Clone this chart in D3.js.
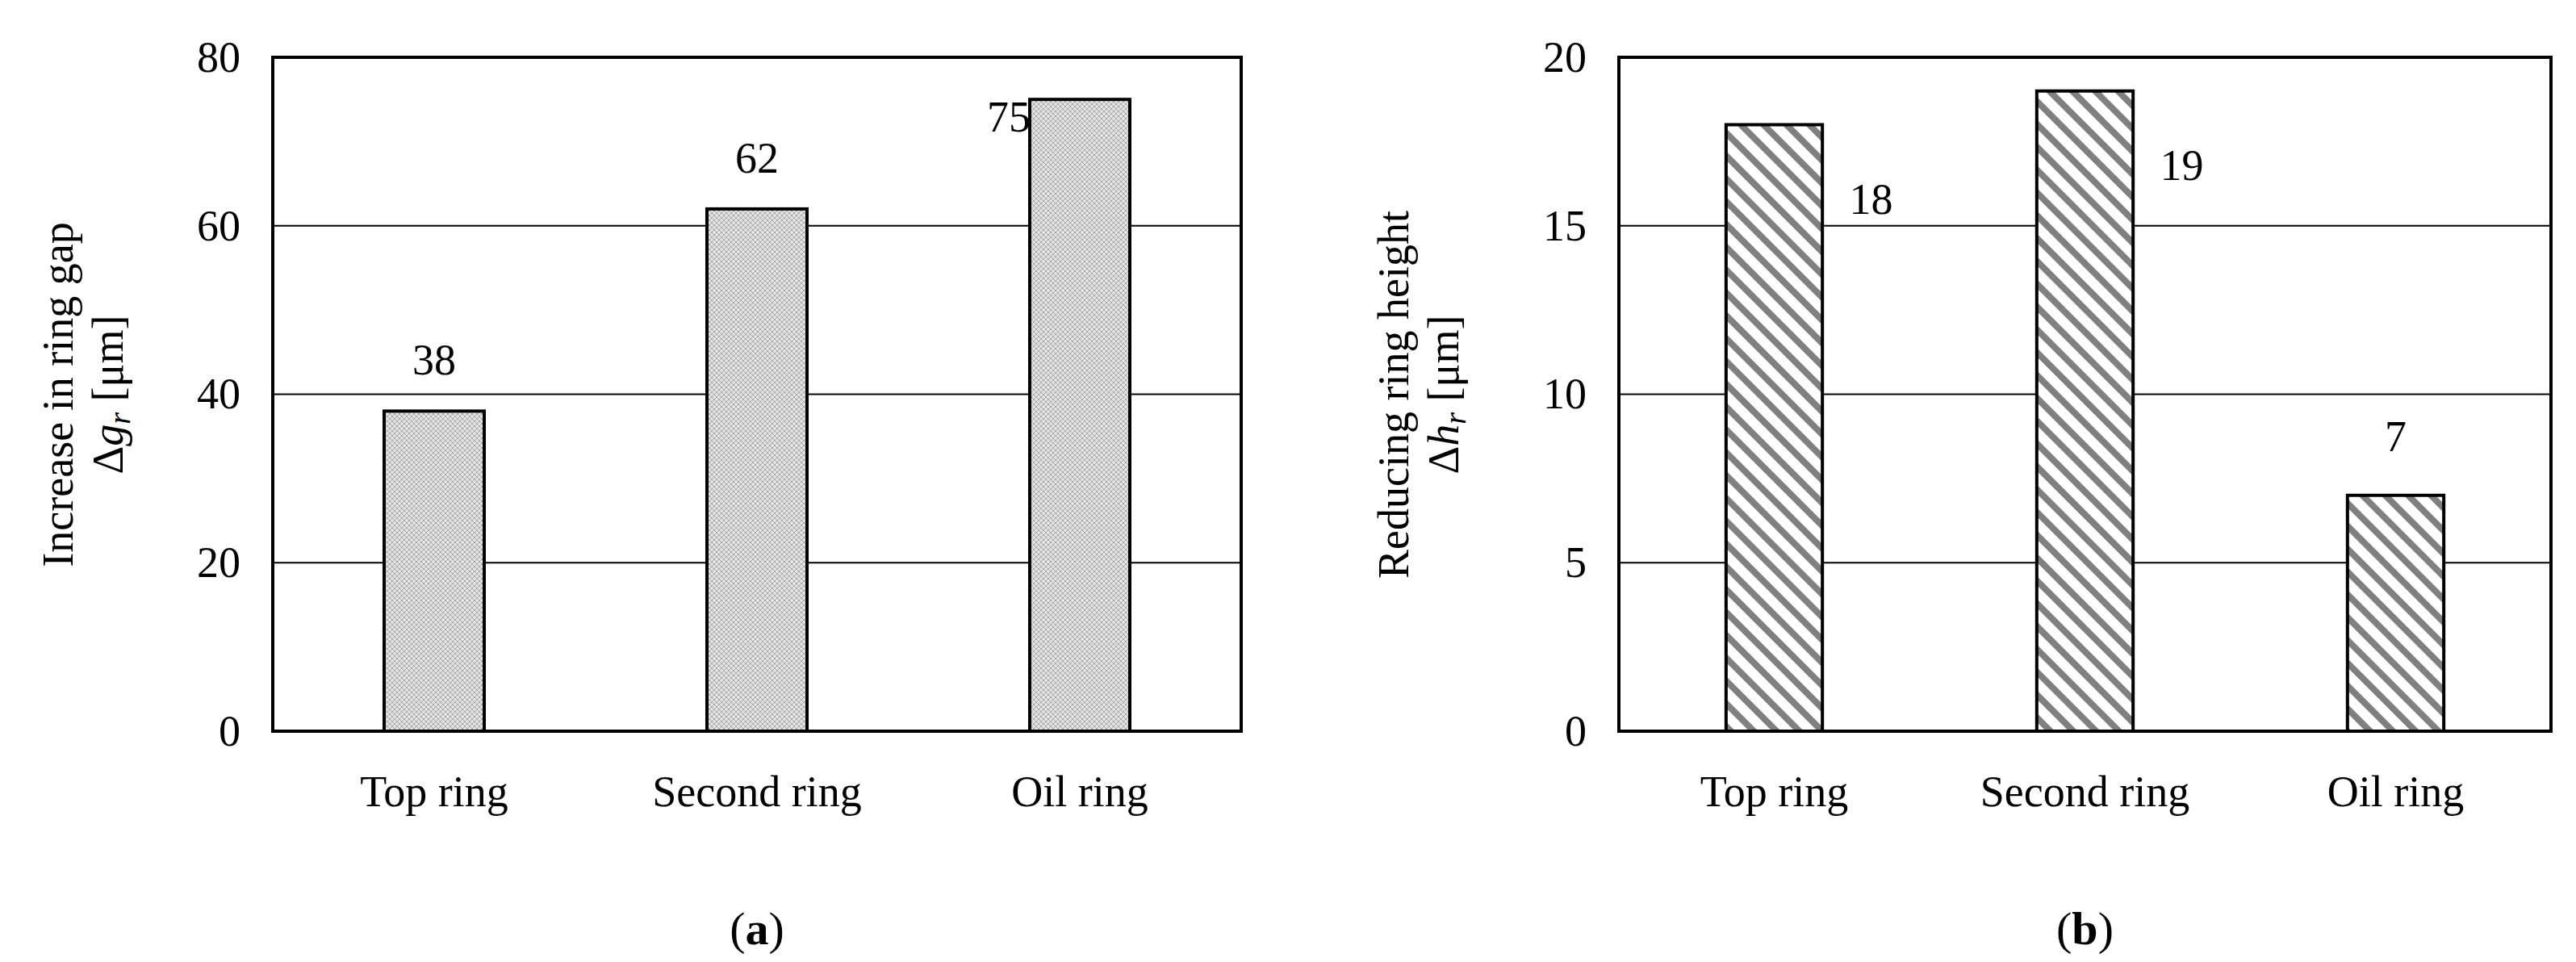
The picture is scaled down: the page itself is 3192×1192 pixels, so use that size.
<!DOCTYPE html>
<html><head><meta charset="utf-8">
<script src="https://cdn.jsdelivr.net/npm/d3@7"></script>
<style>body{margin:0;background:#fff}text{font-family:"Liberation Serif","Times New Roman",serif}</style>
</head><body>
<script>
const categories = ["Top ring", "Second ring", "Oil ring"];
const gapValues = [38, 62, 75];
const heightValues = [18, 19, 7];
const gapTicks = [0, 20, 40, 60, 80];
const heightTicks = [0, 5, 10, 15, 20];

const svg = d3.select("body").append("svg").attr("width", 3192).attr("height", 1192);
const defs = svg.append("defs");

// dotted crosshatch fill
const dots = defs.append("pattern").attr("id", "dots").attr("patternUnits", "userSpaceOnUse")
  .attr("width", 6).attr("height", 6);
dots.append("rect").attr("width", 6).attr("height", 6).attr("fill", "#e4e4e4");
dots.append("path").attr("d", "M0,0L6,6M6,0L0,6").attr("stroke", "#a8a8a8").attr("stroke-width", 1);

// diagonal stripes
const stripes = defs.append("pattern").attr("id", "stripes").attr("patternUnits", "userSpaceOnUse")
  .attr("width", 20).attr("height", 20).attr("patternTransform", "rotate(45)");
stripes.append("rect").attr("width", 20).attr("height", 20).attr("fill", "#fff");
stripes.append("rect").attr("width", 20).attr("height", 8).attr("fill", "#808080");

const FS = 54;

function panel(opt) {
  const g = svg.append("g");
  const x = d3.scaleBand().domain(categories).range([opt.x0, opt.x1]).paddingInner(0.69).paddingOuter(0.345);
  const y = d3.scaleLinear().domain([0, opt.max]).range([906, 71]);

  g.append("g").selectAll("line").data(opt.ticks.slice(1, -1)).enter().append("line")
    .attr("x1", opt.x0).attr("x2", opt.x1).attr("y1", d => y(d)).attr("y2", d => y(d))
    .attr("stroke", "#000").attr("stroke-width", 2);

  g.append("rect").attr("x", opt.x0).attr("y", 71).attr("width", opt.x1 - opt.x0).attr("height", 835)
    .attr("fill", "none").attr("stroke", "#000").attr("stroke-width", 4);

  g.selectAll(".bar").data(opt.values).enter().append("rect")
    .attr("x", (d, i) => x(categories[i])).attr("width", x.bandwidth())
    .attr("y", d => y(d)).attr("height", d => y(0) - y(d))
    .attr("fill", opt.fill).attr("stroke", "#000").attr("stroke-width", 4);

  const yAxis = g.append("g").attr("transform", "translate(" + opt.x0 + ",0)")
    .call(d3.axisLeft(y).tickValues(opt.ticks).tickSize(0).tickPadding(40));
  yAxis.select(".domain").remove();
  yAxis.selectAll("text").attr("font-size", FS).attr("font-family", "Liberation Serif");

  const xAxis = g.append("g").attr("transform", "translate(0,906)")
    .call(d3.axisBottom(x).tickSize(0).tickPadding(55));
  xAxis.select(".domain").remove();
  xAxis.selectAll("text").attr("font-size", FS).attr("font-family", "Liberation Serif");

  g.selectAll(".lbl").data(opt.values).enter().append("text")
    .attr("x", (d, i) => x(categories[i]) + x.bandwidth() / 2 + opt.lblDx[i])
    .attr("y", (d, i) => y(d) + opt.lblDy[i])
    .attr("text-anchor", "middle").attr("font-size", FS).text(d => d);

  const t = g.append("text").attr("transform", "translate(" + opt.titleX + ",489) rotate(-90)")
    .attr("text-anchor", "middle").attr("font-size", FS);
  t.append("tspan").attr("x", 0).attr("dy", 0).text(opt.title1);
  const t2 = t.append("tspan").attr("x", 0).attr("dy", 62);
  t2.append("tspan").text("Δ");
  t2.append("tspan").attr("font-style", "italic").text(opt.sym);
  t2.append("tspan").attr("font-style", "italic").attr("font-size", 38).attr("dy", 9).text("r");
  t2.append("tspan").attr("dy", -9).text(" [μm]");

  svg.append("text").attr("x", (opt.x0 + opt.x1) / 2).attr("y", 1170).attr("text-anchor", "middle")
    .attr("font-size", 58).html("(<tspan font-weight='bold'>" + opt.tag + "</tspan>)");
}

panel({x0: 338, x1: 1538, max: 80, ticks: gapTicks, values: gapValues, fill: "url(#dots)",
  lblDx: [0, 0, -88], lblDy: [-45, -45, 40], titleX: 90, title1: "Increase in ring gap", sym: "g", tag: "a"});
panel({x0: 2006, x1: 3161, max: 20, ticks: heightTicks, values: heightValues, fill: "url(#stripes)",
  lblDx: [120, 120, 0], lblDy: [110, 110, -55], titleX: 1745, title1: "Reducing ring height", sym: "h", tag: "b"});
</script>
</body></html>
